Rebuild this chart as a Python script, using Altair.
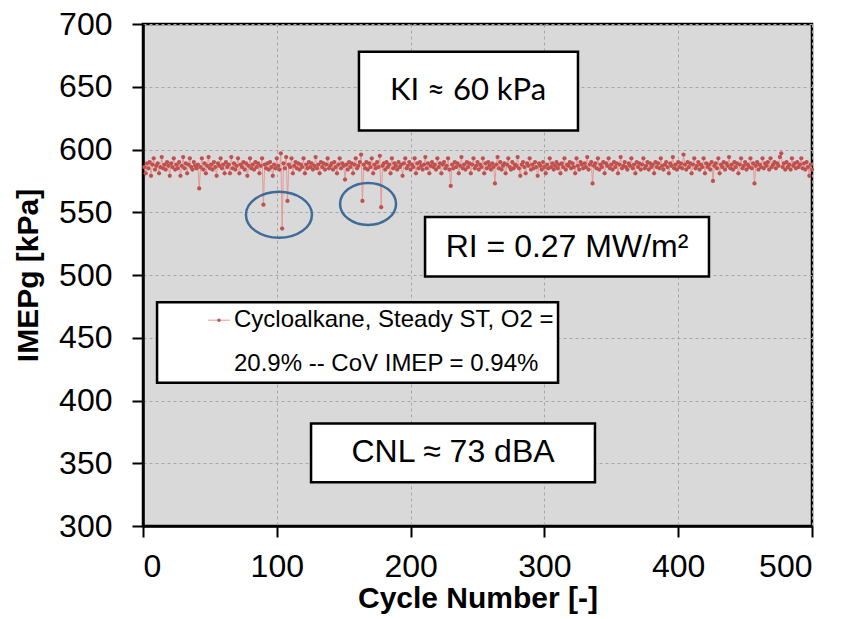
import altair as alt
import pandas as pd

# ---- data ----
imep = [
    586, 581, 589, 585, 590, 579, 588, 593, 584, 587, 589, 581, 586, 594, 585, 588, 584, 590, 587, 579,
    589, 586, 593, 584, 588, 585, 590, 579, 587, 594, 585, 589, 581, 588, 593, 586, 584, 590, 587, 585,
    588, 569, 586, 593, 584, 589, 581, 587, 594, 585, 588, 584, 590, 586, 579, 589, 587, 593, 585, 588,
    581, 590, 586, 588, 581, 594, 585, 589, 584, 587, 593, 581, 588, 586, 590, 584, 589, 579, 587, 593,
    585, 588, 584, 590, 586, 589, 581, 587, 593, 556, 588, 585, 589, 584, 590, 586, 579, 588, 585, 593,
    587, 584, 597, 537, 589, 585, 594, 559, 588, 586, 593, 581, 587, 590, 585, 589, 584, 588, 586, 593,
    581, 588, 585, 590, 586, 589, 584, 587, 594, 585, 588, 581, 590, 586, 589, 584, 588, 593, 585, 587,
    589, 584, 590, 586, 581, 588, 593, 585, 589, 587, 576, 588, 584, 590, 586, 589, 581, 588, 593, 585,
    587, 590, 596, 559, 588, 585, 590, 584, 589, 586, 593, 581, 588, 585, 590, 586, 595, 554, 587, 589,
    584, 590, 586, 588, 581, 593, 585, 589, 587, 584, 590, 586, 588, 579, 589, 593, 585, 587, 590, 584,
    588, 586, 593, 581, 589, 585, 590, 587, 584, 588, 594, 585, 589, 581, 587, 590, 586, 588, 584, 593,
    586, 589, 581, 588, 590, 585, 587, 593, 584, 571, 588, 585, 590, 586, 589, 581, 587, 594, 585, 588,
    584, 590, 586, 589, 581, 588, 593, 585, 587, 590, 584, 588, 586, 593, 581, 589, 585, 590, 587, 584,
    589, 586, 573, 588, 594, 585, 590, 584, 587, 589, 581, 588, 593, 586, 584, 590, 585, 588, 587, 594,
    585, 579, 588, 590, 586, 581, 589, 587, 593, 584, 588, 585, 590, 586, 579, 589, 587, 584, 590, 586,
    581, 588, 585, 593, 586, 589, 584, 587, 590, 585, 588, 581, 589, 586, 593, 584, 588, 587, 590, 585,
    589, 586, 581, 593, 587, 584, 590, 588, 585, 589, 586, 594, 584, 588, 590, 573, 587, 589, 585, 593,
    584, 588, 586, 590, 581, 589, 587, 593, 585, 588, 584, 590, 586, 589, 581, 588, 594, 585, 587, 590,
    586, 584, 589, 587, 593, 585, 588, 581, 590, 586, 589, 584, 588, 593, 585, 587, 590, 584, 589, 586,
    588, 581, 590, 586, 589, 585, 593, 587, 584, 588, 590, 586, 581, 589, 587, 594, 585, 588, 584, 590,
    586, 589, 585, 596, 588, 584, 590, 586, 589, 581, 588, 593, 585, 587, 590, 584, 588, 586, 593, 581,
    589, 586, 588, 584, 590, 575, 587, 589, 585, 593, 581, 588, 586, 590, 584, 589, 587, 594, 585, 588,
    584, 590, 586, 589, 581, 588, 593, 585, 587, 590, 584, 588, 586, 593, 585, 589, 573, 587, 590, 584,
    588, 586, 593, 585, 589, 587, 590, 584, 593, 586, 588, 590, 585, 589, 587, 594, 597, 586, 589, 584,
    590, 586, 588, 584, 593, 587, 589, 585, 590, 586, 588, 593, 585, 589, 584, 590, 586, 579, 588, 584,
]
cycles = list(range(1, len(imep) + 1))

x_ticks = [0, 100, 200, 300, 400, 500]
y_ticks = [300, 350, 400, 450, 500, 550, 600, 650, 700]

legend_lines = ["Cycloalkane, Steady ST, O2 =", "20.9% -- CoV IMEP = 0.94%"]
ki_text = "KI \u2248 60 kPa"
ri_text = "RI = 0.27 MW/m\u00b2"
cnl_text = "CNL \u2248 73 dBA"

# annotation boxes in data units: x, x2, y, y2
box_x = [161.4, 210.8, 10.5, 125.6]
box_x2 = [325.1, 423.0, 310.2, 337.8]
box_y = [615.2, 498.8, 414.1, 334.9]
box_y2 = [677.8, 546.3, 478.2, 381.6]

# ellipse centres (data units)
ell_x = [101.6, 168.2]
ell_y = [548.0, 556.6]

df = pd.DataFrame({"cycle": cycles, "imep": imep})

X = alt.X("cycle:Q", scale=alt.Scale(domain=[0, 500], nice=False),
          axis=alt.Axis(values=x_ticks, title="Cycle Number [-]"))
Y = alt.Y("imep:Q", scale=alt.Scale(domain=[300, 700], nice=False, zero=False),
          axis=alt.Axis(values=y_ticks, title="IMEPg [kPa]"))

line = alt.Chart(df).mark_line(color="#e39a98", strokeWidth=1).encode(x=X, y=Y)
pts = alt.Chart(df).mark_circle(color="#c0504d", size=18, opacity=1).encode(x=X, y=Y)

boxes = alt.Chart(pd.DataFrame({"x": box_x, "x2": box_x2, "y": box_y, "y2": box_y2})).mark_rect(
    fill="white", stroke="black", strokeWidth=2.5
).encode(x="x:Q", x2="x2:Q", y="y:Q", y2="y2:Q")

ki = alt.Chart(pd.DataFrame({"x": [242.9], "y": [646.5], "t": [ki_text]})).mark_text(
    font="Lato", fontSize=31, color="black", align="center", baseline="middle"
).encode(x="x:Q", y="y:Q", text="t:N")

arial_txt = alt.Chart(pd.DataFrame({
    "x": [316.9, 231.7], "y": [522.6, 358.6], "t": [ri_text, cnl_text]
})).mark_text(
    font="Liberation Sans", fontSize=32, color="black", align="center", baseline="middle"
).encode(x="x:Q", y="y:Q", text="t:N")

leg_txt = alt.Chart(pd.DataFrame({
    "x": [68.0, 68.0], "y": [464.0, 429.0], "t": legend_lines
})).mark_text(
    font="Liberation Sans", fontSize=24, color="black", align="left", baseline="middle"
).encode(x="x:Q", y="y:Q", text="t:N")

leg_line = alt.Chart(pd.DataFrame({"x": [48.6], "x2": [65.0], "y": [464.0]})).mark_rule(
    color="#e39a98", strokeWidth=1
).encode(x="x:Q", x2="x2:Q", y="y:Q")
leg_pt = alt.Chart(pd.DataFrame({"x": [56.8], "y": [464.0]})).mark_circle(
    color="#c0504d", size=12, opacity=1
).encode(x="x:Q", y="y:Q")

ell1 = alt.Chart(pd.DataFrame({"x": [ell_x[0]], "y": [ell_y[0]]})).mark_point(
    shape="M -1 0 A 1 0.7 0 1 0 1 0 A 1 0.7 0 1 0 -1 0",
    size=4356, filled=False, stroke="#3f6b99", strokeWidth=2.5, opacity=1
).encode(x="x:Q", y="y:Q")
ell2 = alt.Chart(pd.DataFrame({"x": [ell_x[1]], "y": [ell_y[1]]})).mark_point(
    shape="M -1 0 A 1 0.75 0 1 0 1 0 A 1 0.75 0 1 0 -1 0",
    size=3136, filled=False, stroke="#3f6b99", strokeWidth=2.5, opacity=1
).encode(x="x:Q", y="y:Q")

chart = alt.layer(
    line, pts, boxes, ki, arial_txt, leg_line, leg_pt, leg_txt, ell1, ell2
).properties(
    width=669, height=502,
    autosize=alt.AutoSizeParams(type="none"),
    padding={"left": 135, "top": 16, "right": 20, "bottom": 90},
).configure_view(
    fill="#d9d9d9", stroke="black", strokeWidth=2.5
).configure_axis(
    grid=True, gridColor="#a6a6a6", gridDash=[3, 3], gridWidth=1,
    domainColor="black", domainWidth=2.5,
    tickColor="black", tickWidth=2, tickSize=11,
    labelFont="Liberation Sans", labelFontSize=32, labelColor="black",
    titleFont="Liberation Sans", titleFontSize=30, titleFontWeight="bold", titleColor="black",
).configure_axisX(
    labelPadding=14, titlePadding=1,
).configure_axisY(
    labelPadding=20, titlePadding=15,
)

chart.save("out.html", embed_options={"renderer": "svg", "actions": False})
